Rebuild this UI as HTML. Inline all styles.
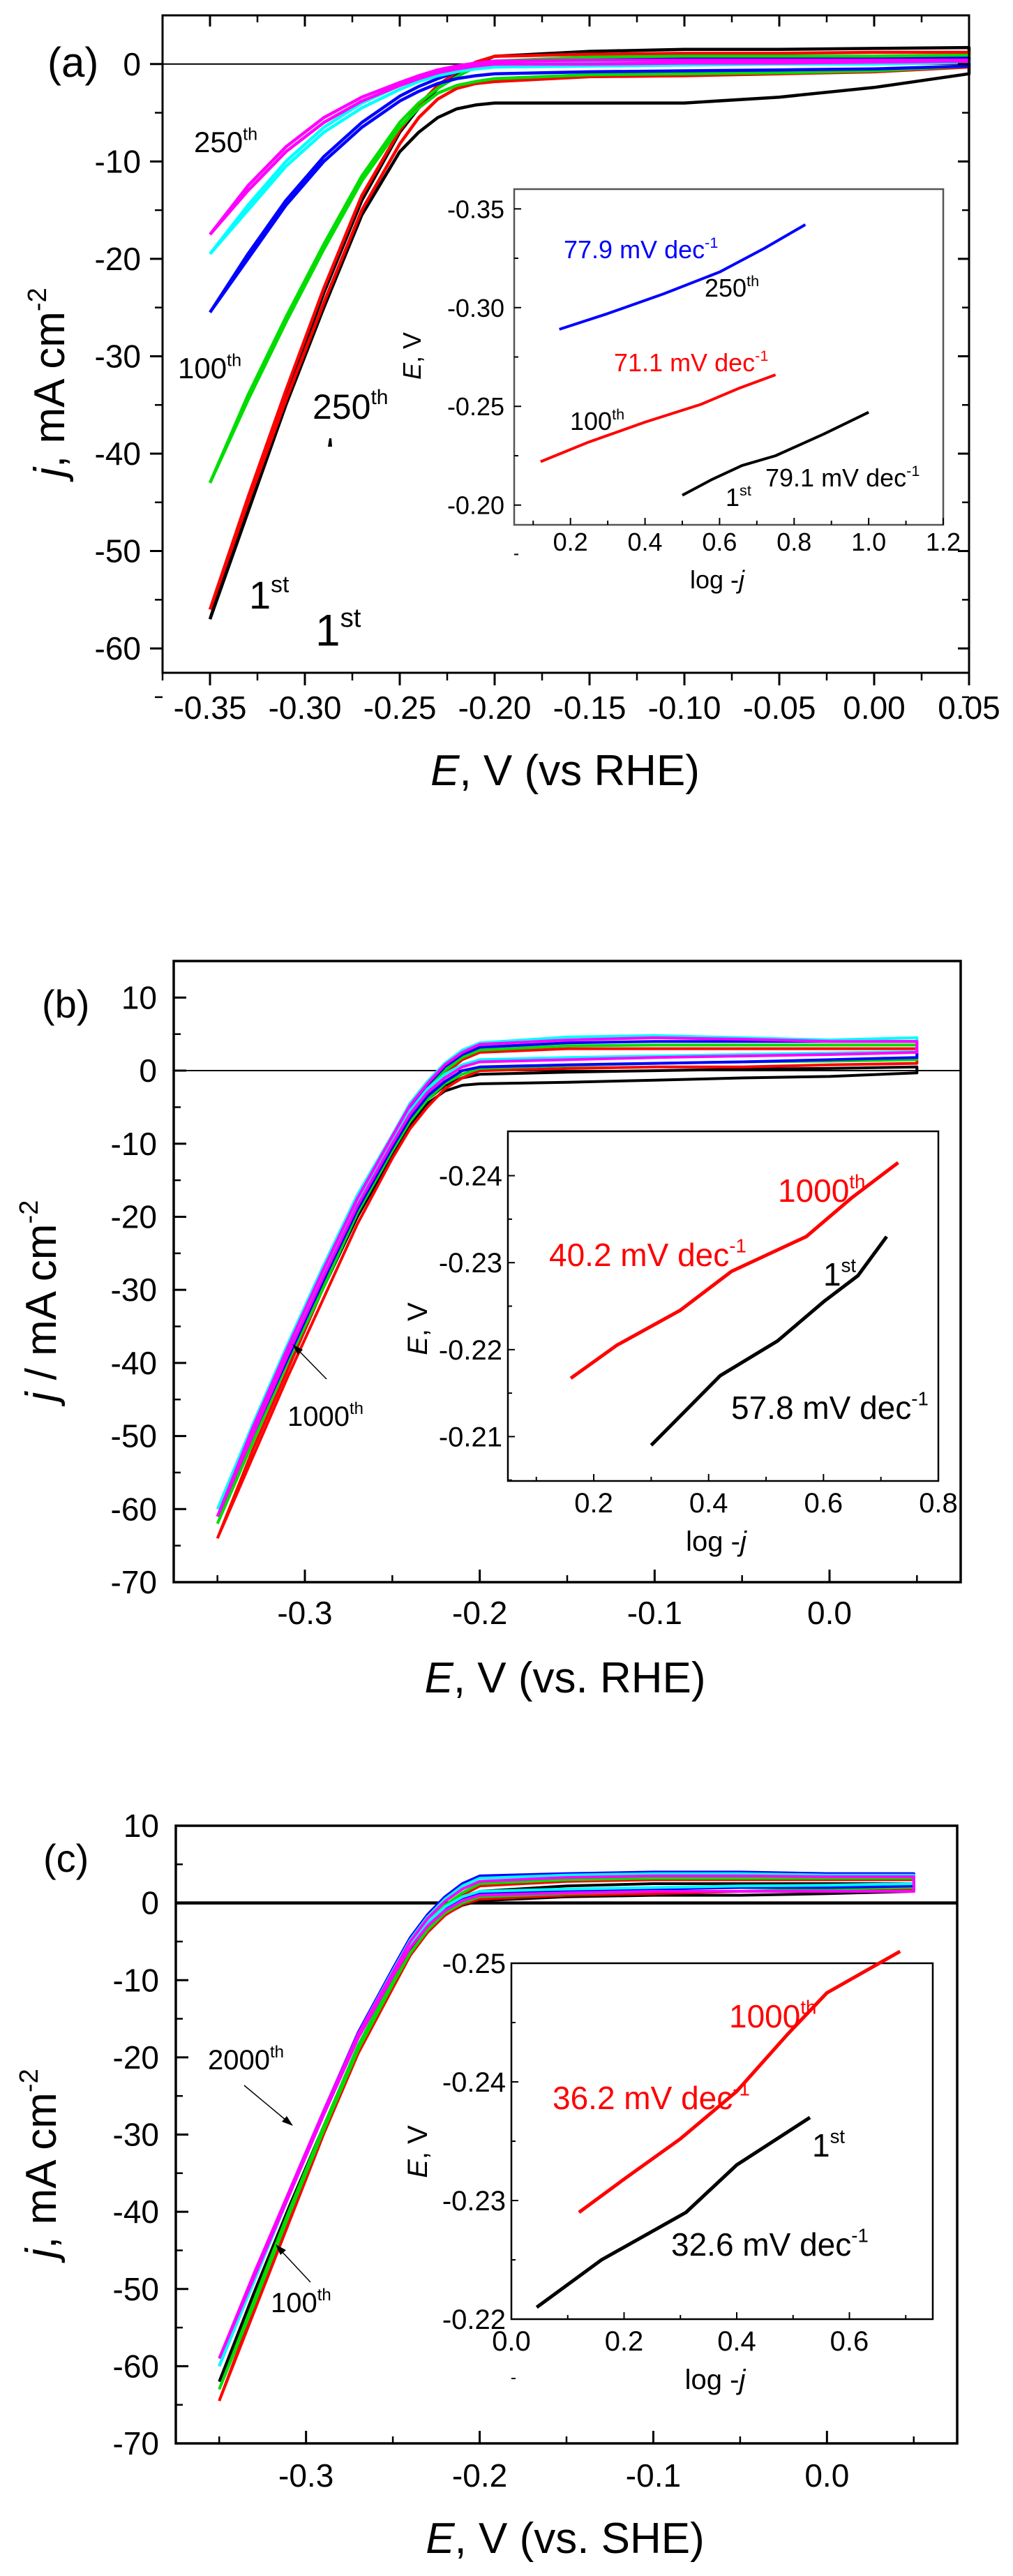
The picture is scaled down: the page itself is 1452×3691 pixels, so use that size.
<!DOCTYPE html>
<html><head><meta charset="utf-8"><style>
html,body{margin:0;padding:0;background:#fff}
svg{display:block;font-family:"Liberation Sans",Arial,sans-serif}
</style></head><body>
<svg id="fig" width="1452" height="3691" viewBox="0 0 1452 3691" xmlns="http://www.w3.org/2000/svg"></svg>
<script>
// ---------- DATA ----------
const potentialsA = [-0.35,-0.33,-0.31,-0.29,-0.27,-0.25,-0.24,-0.23,-0.22,-0.21,-0.20,-0.15,-0.10,-0.05,0.0,0.05];
const seriesNames = ['black','red','green','blue','cyan','magenta'];
const seriesColors = ['#000000','#ff0000','#00dd00','#0000ff','#00ffff','#ff00ff'];
const aLowerBlack   = [-57,-46,-35,-25,-15.5,-9,-7,-5.5,-4.6,-4.2,-4,-4,-4,-3.4,-2.4,-1];
const aLowerRed     = [-56,-45,-34.5,-24.5,-15,-8.2,-5.5,-3.6,-2.5,-2,-1.8,-1.3,-1.2,-1,-0.8,-0.3];
const aLowerGreen   = [-43,-34.5,-26.5,-19,-12,-6.5,-4.5,-3,-2.2,-1.8,-1.5,-1.1,-1,-0.9,-0.7,-0.2];
const aLowerBlue    = [-25.5,-20,-14.5,-10,-6.5,-3.8,-2.8,-2,-1.5,-1.2,-1,-0.8,-0.7,-0.6,-0.5,-0.2];
const aLowerCyan    = [-19.5,-15,-10.5,-7,-4.5,-2.6,-1.8,-1.2,-0.8,-0.5,-0.3,-0.2,-0.1,0,0,0.2];
const aLowerMagenta = [-17.5,-13,-9,-6,-3.8,-2.2,-1.5,-0.9,-0.5,-0.2,0,0,0.1,0.1,0.2,0.3];
const aUpperBlack   = [-57,-45,-34,-23.5,-14,-7,-4.5,-2.5,-1,0,0.8,1.3,1.5,1.5,1.6,1.7];
const aUpperRed     = [-56,-44.5,-33.5,-23,-13.5,-6.8,-4.2,-2.2,-0.8,0.2,0.8,1,1.1,1.1,1.2,1.2];
const aUpperGreen   = [-43,-34,-26,-18.5,-11.5,-6,-4,-2.5,-1.3,-0.3,0.3,0.7,0.8,0.8,0.8,0.9];
const aUpperBlue    = [-25.5,-19.5,-14,-9.5,-6,-3.3,-2.3,-1.5,-0.8,-0.2,0.2,0.4,0.5,0.5,0.5,0.6];
const aUpperCyan    = [-19.5,-14.5,-10,-6.5,-4,-2.2,-1.5,-0.9,-0.4,0,0.2,0.3,0.4,0.4,0.4,0.4];
const aUpperMagenta = [-17.5,-12.5,-8.5,-5.5,-3.4,-1.9,-1.2,-0.6,-0.2,0.1,0.3,0.4,0.4,0.4,0.4,0.4];

const potentialsB = [-0.35,-0.33,-0.31,-0.29,-0.27,-0.25,-0.24,-0.23,-0.22,-0.21,-0.20,-0.15,-0.10,-0.05,0.0,0.05];
const bLowerBlack   = [-61,-50,-40,-30,-20,-11.5,-7.5,-4.5,-2.8,-2,-1.8,-1.6,-1.3,-1,-0.8,-0.3];
const bLowerRed     = [-64,-53,-42,-31.5,-21,-12,-8,-5,-2.5,-1,0,0.3,0.5,0.5,0.8,1];
const bLowerGreen   = [-62,-51,-40,-30,-19.5,-11,-7,-4,-1.8,-0.5,0.3,0.7,1,1.2,1.3,1.5];
const bLowerBlue    = [-61,-50,-39.5,-29,-19,-10.5,-6.5,-3.5,-1.5,0,0.5,0.8,1,1.2,1.5,1.8];
const bLowerCyan    = [-60,-49,-38,-28,-18,-9.5,-5.5,-2.5,-0.5,0.8,1.5,1.8,2,2.2,2.4,2.6];
const bLowerMagenta = [-61,-50,-39,-28.5,-18.5,-10,-6,-3,-1,0.5,1.2,1.5,1.8,2,2.2,2.5];
const bUpperBlack   = [-61,-49.5,-39.5,-29.5,-19.5,-11,-7,-4,-2,-1,-0.5,-0.2,0,0.2,0.3,0.5];
const bUpperRed     = [-64,-52,-41,-30,-19.5,-10.5,-6,-3,-0.5,1.5,2.5,3,3,3,3,3];
const bUpperGreen   = [-62,-50.5,-39.5,-29,-18.5,-9.8,-5.5,-2.5,0,1.8,2.8,3.4,3.5,3.5,3.5,3.5];
const bUpperBlue    = [-61,-49.5,-38.5,-28,-18,-9.5,-5,-2,0.5,2.2,3.2,3.8,4,4,4,4];
const bUpperCyan    = [-60,-48.5,-37.5,-27,-17,-8.8,-4.5,-1.5,1,2.8,3.8,4.6,4.8,4.5,4.2,4.5];
const bUpperMagenta = [-61,-49,-38,-27.5,-17.5,-9,-4.8,-1.8,0.8,2.5,3.6,4.2,4.5,4.3,4,4];

const potentialsC = [-0.35,-0.33,-0.31,-0.29,-0.27,-0.25,-0.24,-0.23,-0.22,-0.21,-0.20,-0.15,-0.10,-0.05,0.0,0.05];
const cLowerBlack   = [-62,-51,-40,-29.5,-19,-10.5,-6.5,-3.5,-1.5,-0.3,0.3,0.8,1,1,1.2,1.5];
const cLowerRed     = [-64.5,-53,-41.5,-30,-19.5,-11,-6.8,-3.8,-1.6,-0.2,0.5,1,1.2,1.5,1.5,1.8];
const cLowerGreen   = [-63,-52,-40.5,-29.5,-19,-10.5,-6.5,-3.5,-1.3,0,0.8,1.2,1.5,1.5,1.8,2];
const cLowerBlue    = [-60,-49,-38,-27.5,-17.5,-9.5,-5.5,-2.8,-0.8,0.5,1.2,1.5,1.8,2,2,2.2];
const cLowerCyan    = [-60,-49,-38,-27.5,-17.5,-9.3,-5.5,-2.5,-0.5,0.8,1.5,1.8,2,2.2,2.3,2.5];
const cLowerMagenta = [-59,-48.5,-38,-27.5,-17.5,-9.5,-5.8,-3,-1,0.3,1,1.3,1.5,1.5,1.5,1.5];
const cUpperBlack   = [-62,-50.5,-39.5,-29,-18.5,-10,-6,-3,-1,0.5,1.5,2.2,2.5,2.5,2.5,2.5];
const cUpperRed     = [-64.5,-52.5,-41,-29.5,-19,-10,-5.8,-2.8,-0.6,1,2.2,2.8,3,3,3,3];
const cUpperGreen   = [-63,-51.5,-40,-29,-18.5,-9.8,-5.5,-2.5,-0.3,1.3,2.5,3,3.2,3.2,3.2,3.2];
const cUpperBlue    = [-60,-48.5,-37.5,-27,-16.8,-8.5,-4.5,-1.5,0.8,2.5,3.5,3.8,4,4,3.8,3.8];
const cUpperCyan    = [-60,-48.5,-37.5,-27,-17,-8.8,-4.8,-1.8,0.5,2.2,3.2,3.6,3.8,3.8,3.6,3.6];
const cUpperMagenta = [-59,-48,-37.5,-27,-17,-9,-5,-2,0.2,1.8,2.8,3.3,3.5,3.5,3.4,3.4];

// Tafel insets
const insetALogJBlue = [0.17,0.30,0.45,0.60,0.72,0.83];
const insetAEBlue    = [-0.289,-0.297,-0.307,-0.318,-0.330,-0.342];
const insetALogJRed  = [0.12,0.25,0.40,0.55,0.65,0.75];
const insetAERed     = [-0.222,-0.232,-0.242,-0.251,-0.259,-0.266];
const insetALogJBlack= [0.50,0.58,0.66,0.75,0.88,1.00];
const insetAEBlack   = [-0.205,-0.213,-0.220,-0.225,-0.236,-0.247];

const insetBLogJRed  = [0.16,0.24,0.35,0.44,0.57,0.65,0.73];
const insetBERed     = [-0.2167,-0.2205,-0.2245,-0.2290,-0.2330,-0.2375,-0.2415];
const insetBLogJBlack= [0.30,0.36,0.42,0.52,0.60,0.66,0.71];
const insetBEBlack   = [-0.2090,-0.2130,-0.2170,-0.2210,-0.2255,-0.2285,-0.2330];

const insetCLogJRed  = [0.12,0.20,0.30,0.40,0.49,0.56,0.69];
const insetCERed     = [-0.2290,-0.2318,-0.2352,-0.2392,-0.2440,-0.2475,-0.2510];
const insetCLogJBlack= [0.045,0.16,0.31,0.40,0.53];
const insetCEBlack   = [-0.2210,-0.2250,-0.2290,-0.2330,-0.2370];

const xTicksA = [-0.35,-0.30,-0.25,-0.20,-0.15,-0.10,-0.05,0.00,0.05];
const yTicksA = [0,-10,-20,-30,-40,-50,-60];
const xTicksBC = [-0.3,-0.2,-0.1,0.0];
const yTicksBC = [10,0,-10,-20,-30,-40,-50,-60,-70];
const insetXTicksA = [0.2,0.4,0.6,0.8,1.0,1.2];
const insetYTicksA = [-0.35,-0.30,-0.25,-0.20];
const insetXTicksB = [0.2,0.4,0.6,0.8];
const insetYTicksB = [-0.24,-0.23,-0.22,-0.21];
const insetXTicksC = [0.0,0.2,0.4,0.6];
const insetYTicksC = [-0.25,-0.24,-0.23,-0.22];

// ---------- HELPERS ----------
const NS='http://www.w3.org/2000/svg';
const svg=document.getElementById('fig');
function mk(tag,attrs,parent){const e=document.createElementNS(NS,tag);for(const k in attrs)e.setAttribute(k,attrs[k]);(parent||svg).appendChild(e);return e;}
function scale(d0,d1,p0,p1){return v=>p0+(v-d0)*(p1-p0)/(d1-d0);}
function poly(xs,ys,X,Y){return xs.map((v,i)=>X(v).toFixed(1)+','+Y(ys[i]).toFixed(1)).join(' ');}
function txt(x,y,s,size,opts,parent){const t=mk('text',Object.assign({x:x,y:y,'font-size':size},opts||{}),parent);t.textContent=s;return t;}
function supText(x,y,base,sup,size,color,name){
  const t=mk('text',{x:x,y:y,'font-size':size,fill:color||'#000'});
  
  
  const a=mk('tspan',{},t);a.textContent=base;
  const b=mk('tspan',{dy:-size*0.42,'font-size':size*0.6},t);b.textContent=sup;
  return t;
}
function fmt(v,d){let s=Math.abs(v).toFixed(d);return (v<0?'-':'')+s;}

// ---------- PANEL A ----------
(function(){
  const X=scale(-0.375,0.05,233,1389), Y=scale(5,-62.5,22,964);
  const g=mk('g',{});
  
  
  mk('line',{x1:233,y1:Y(0),x2:1389,y2:Y(0),stroke:'#000','stroke-width':2},g);
  const lows=[aLowerBlack,aLowerRed,aLowerGreen,aLowerBlue,aLowerCyan,aLowerMagenta];
  const ups=[aUpperBlack,aUpperRed,aUpperGreen,aUpperBlue,aUpperCyan,aUpperMagenta];
  for(let i=0;i<6;i++){
    const p=mk('polyline',{points:poly(potentialsA,lows[i],X,Y)+' '+poly(potentialsA.slice().reverse(),ups[i].slice().reverse(),X,Y),fill:'none',stroke:seriesColors[i],'stroke-width':4.5,'stroke-linejoin':'round'},g);
    
    
  }
  mk('rect',{x:233,y:22,width:1156,height:942,fill:'none',stroke:'#000','stroke-width':3},g);
  xTicksA.forEach((v,i)=>{mk('line',{x1:X(v),y1:964,x2:X(v),y2:982,stroke:'#000','stroke-width':3},g);mk('line',{x1:X(v),y1:22,x2:X(v),y2:38,stroke:'#000','stroke-width':3},g);
    const t=txt(X(v),1030,v.toFixed(2),46,{'text-anchor':'middle'},g);
    if(i<xTicksA.length-1){mk('line',{x1:X(v+0.025),y1:964,x2:X(v+0.025),y2:975,stroke:'#000','stroke-width':2.5},g);mk('line',{x1:X(v+0.025),y1:22,x2:X(v+0.025),y2:32,stroke:'#000','stroke-width':2.5},g);}
  });
  mk('line',{x1:X(-0.375),y1:964,x2:X(-0.375),y2:975,stroke:'#000','stroke-width':2.5},g);
  yTicksA.forEach(v=>{mk('line',{x1:215,y1:Y(v),x2:233,y2:Y(v),stroke:'#000','stroke-width':3},g);mk('line',{x1:1373,y1:Y(v),x2:1389,y2:Y(v),stroke:'#000','stroke-width':3},g);
    mk('line',{x1:222,y1:Y(v-5),x2:233,y2:Y(v-5),stroke:'#000','stroke-width':2.5},g);mk('line',{x1:1379,y1:Y(v-5),x2:1389,y2:Y(v-5),stroke:'#000','stroke-width':2.5},g);
    const t=txt(202,Y(v)+16,String(v),46,{'text-anchor':'end'},g);
  });
  const xt=mk('text',{x:810,y:1125,'font-size':62,'text-anchor':'middle'},g);
  
  xt.innerHTML='<tspan font-style="italic">E</tspan>, V (vs RHE)';
  const yt=mk('text',{x:0,y:0,'font-size':62,'text-anchor':'middle',transform:'translate(92,548) rotate(-90)'},g);
  
  yt.innerHTML='<tspan font-style="italic">j</tspan>, mA cm<tspan dy="-26" font-size="38">-2</tspan>';
  const pl=txt(68,110,'(a)',60,{},g);
  supText(278,218,'250','th',42,'#000','label-250th-left');
  supText(255,542,'100','th',42,'#000','label-100th');
  supText(448,600,'250','th',50,'#000','label-250th-mid');
  mk('path',{d:'M470,640 L476,640 L475,628 L472,628 Z',fill:'#000'},g);
  supText(357,872,'1','st',56,'#000','label-1st-a');
  supText(452,925,'1','st',64,'#000','label-1st-b');
  // inset
  const IX=scale(0.049,1.2,737,1352), IY=scale(-0.36,-0.19,271,752);
  const ig=mk('g',{},g);
  mk('rect',{x:737,y:271,width:615,height:481,fill:'#fff',stroke:'#555','stroke-width':2.5},ig);
  insetXTicksA.forEach(v=>{mk('line',{x1:IX(v),y1:752,x2:IX(v),y2:742,stroke:'#000','stroke-width':2},ig);mk('line',{x1:IX(v-0.1),y1:752,x2:IX(v-0.1),y2:746,stroke:'#000','stroke-width':2},ig);
    txt(IX(v),789,v.toFixed(1),36,{'text-anchor':'middle'},ig);});
  insetYTicksA.forEach(v=>{mk('line',{x1:737,y1:IY(v),x2:747,y2:IY(v),stroke:'#000','stroke-width':2},ig);mk('line',{x1:737,y1:IY(v+0.025),x2:743,y2:IY(v+0.025),stroke:'#000','stroke-width':2},ig);
    txt(723,IY(v)+13,v.toFixed(2),36,{'text-anchor':'end'},ig);});
  const il=mk('text',{x:1028,y:843,'font-size':36,'text-anchor':'middle'},ig);il.innerHTML='log -<tspan font-style="italic">j</tspan>';
  const iy=mk('text',{x:0,y:0,'font-size':36,'text-anchor':'middle',transform:'translate(603,510) rotate(-90)'},ig);iy.innerHTML='<tspan font-style="italic">E</tspan>, V';
  [[insetALogJBlue,insetAEBlue,'#0000ff','tafel-a-250th'],[insetALogJRed,insetAERed,'#ff0000','tafel-a-100th'],[insetALogJBlack,insetAEBlack,'#000','tafel-a-1st']].forEach(s=>{
    const p=mk('polyline',{points:poly(s[0],s[1],IX,IY),fill:'none',stroke:s[2],'stroke-width':4,'stroke-linejoin':'round'},ig);
    });
  supText(808,370,'77.9 mV dec','-1',36,'#0000ff','slope-label-77-9');
  supText(1010,425,'250','th',36,'#000','inset-label-250th');
  supText(880,532,'71.1 mV dec','-1',36,'#ff0000','slope-label-71-1');
  supText(817,616,'100','th',36,'#000','inset-label-100th');
  supText(1040,725,'1','st',36,'#000','inset-label-1st');
  supText(1097,697,'79.1 mV dec','-1',36,'#000','slope-label-79-1');
})();

// ---------- PANELS B & C ----------
function bigPanel(cfg){
  const X=scale(-0.375,0.075,cfg.left,cfg.right), Y=scale(15,-70,cfg.top,cfg.bottom);
  if(cfg.ymax===10) Y.__=0;
  const Yf=cfg.ymax===10?scale(10,-70,cfg.top,cfg.bottom):Y;
  const g=mk('g',{});
  
  
  mk('line',{x1:cfg.left,y1:Yf(0),x2:cfg.right,y2:Yf(0),stroke:'#000','stroke-width':cfg.zeroW},g);
  for(let i=0;i<6;i++){
    const p=mk('polyline',{points:poly(cfg.E,cfg.lows[i],X,Yf)+' '+poly(cfg.E.slice().reverse(),cfg.ups[i].slice().reverse(),X,Yf),fill:'none',stroke:seriesColors[i],'stroke-width':4,'stroke-linejoin':'round'},g);
    
    
  }
  mk('rect',{x:cfg.left,y:cfg.top,width:cfg.right-cfg.left,height:cfg.bottom-cfg.top,fill:'none',stroke:'#000','stroke-width':3.5},g);
  xTicksBC.forEach(v=>{mk('line',{x1:X(v),y1:cfg.bottom,x2:X(v),y2:cfg.bottom-18,stroke:'#000','stroke-width':3},g);
    const t=txt(X(v),cfg.xlabY,v.toFixed(1),46,{'text-anchor':'middle'},g);});
  [-0.35,-0.25,-0.15,-0.05,0.05].forEach(v=>mk('line',{x1:X(v),y1:cfg.bottom,x2:X(v),y2:cfg.bottom-10,stroke:'#000','stroke-width':2.5},g));
  yTicksBC.forEach(v=>{mk('line',{x1:cfg.left,y1:Yf(v),x2:cfg.left+18,y2:Yf(v),stroke:'#000','stroke-width':3},g);
    if(v>-70)mk('line',{x1:cfg.left,y1:Yf(v-5),x2:cfg.left+10,y2:Yf(v-5),stroke:'#000','stroke-width':2.5},g);
    const t=txt(cfg.left-24,Yf(v)+16,String(v),46,{'text-anchor':'end'},g);});
  const xt=mk('text',{x:810,y:cfg.titleY,'font-size':62,'text-anchor':'middle'},g);
  
  xt.innerHTML='<tspan font-style="italic">E</tspan>, V ('+cfg.ref+')';
  const yt=mk('text',{x:0,y:0,'font-size':62,'text-anchor':'middle',transform:'translate(80,'+cfg.ytY+') rotate(-90)'},g);
  
  yt.innerHTML='<tspan font-style="italic">j</tspan>'+cfg.ysep+'mA cm<tspan dy="-26" font-size="38">-2</tspan>';
  const pl=txt(cfg.plX,cfg.plY,'('+cfg.id+')',56,{},g);
  // inset
  const I=cfg.inset;
  const IX=scale(I.x0,I.x1,I.l,I.r), IY=scale(I.y0,I.y1,I.t,I.b);
  const ig=mk('g',{},g);
  mk('rect',{x:I.l,y:I.t,width:I.r-I.l,height:I.b-I.t,fill:'#fff',stroke:'#000','stroke-width':2.5},ig);
  I.xt.forEach(v=>{mk('line',{x1:IX(v),y1:I.b,x2:IX(v),y2:I.b-10,stroke:'#000','stroke-width':2},ig);if(v+0.1<I.x1)mk('line',{x1:IX(v+0.1),y1:I.b,x2:IX(v+0.1),y2:I.b-6,stroke:'#000','stroke-width':2},ig);
    txt(IX(v),I.b+45,v.toFixed(1),40,{'text-anchor':'middle'},ig);});
  if(I.xt[0]>0.15)mk('line',{x1:IX(I.xt[0]-0.1),y1:I.b,x2:IX(I.xt[0]-0.1),y2:I.b-6,stroke:'#000','stroke-width':2},ig);
  I.yt.forEach(v=>{mk('line',{x1:I.l,y1:IY(v),x2:I.l+10,y2:IY(v),stroke:'#000','stroke-width':2},ig);mk('line',{x1:I.l,y1:IY(v+0.005),x2:I.l+6,y2:IY(v+0.005),stroke:'#000','stroke-width':2},ig);
    txt(I.l-8,IY(v)+14,v.toFixed(2),40,{'text-anchor':'end'},ig);});
  const il=mk('text',{x:(I.l+I.r)/2-10,y:I.b+100,'font-size':40,'text-anchor':'middle'},ig);il.innerHTML='log -<tspan font-style="italic">j</tspan>';
  const iy=mk('text',{x:0,y:0,'font-size':40,'text-anchor':'middle',transform:'translate('+I.yl[0]+','+I.yl[1]+') rotate(-90)'},ig);iy.innerHTML='<tspan font-style="italic">E</tspan>, V';
  I.series.forEach(s=>{const p=mk('polyline',{points:poly(s[0],s[1],IX,IY),fill:'none',stroke:s[2],'stroke-width':5,'stroke-linejoin':'round'},ig);
    });
  return g;
}
bigPanel({id:'b',name:'panel-b',left:249,right:1377,top:1377,bottom:2267,ymax:15,zeroW:2,E:potentialsB,
  lows:[bLowerBlack,bLowerRed,bLowerGreen,bLowerBlue,bLowerCyan,bLowerMagenta],
  ups:[bUpperBlack,bUpperRed,bUpperGreen,bUpperBlue,bUpperCyan,bUpperMagenta],
  xlabY:2327,titleY:2425,ref:'vs. RHE',ytY:1864,ysep:' / ',plX:60,plY:1458,
  inset:{l:728,r:1345,t:1621,b:2122,x0:0.0505,x1:0.8,y0:-0.2451,y1:-0.2049,xt:insetXTicksB,yt:insetYTicksB,yl:[612,1904],
    series:[[insetBLogJRed,insetBERed,'#ff0000','tafel-b-1000th'],[insetBLogJBlack,insetBEBlack,'#000','tafel-b-1st']]}});
bigPanel({id:'c',name:'panel-c',left:252,right:1372,top:2616,bottom:3501,ymax:10,zeroW:4.5,E:potentialsC,
  lows:[cLowerBlack,cLowerRed,cLowerGreen,cLowerBlue,cLowerCyan,cLowerMagenta],
  ups:[cUpperBlack,cUpperRed,cUpperGreen,cUpperBlue,cUpperCyan,cUpperMagenta],
  xlabY:3563,titleY:3658,ref:'vs. SHE',ytY:3100,ysep:', ',plX:62,plY:2682,
  inset:{l:733,r:1337,t:2813,b:3323,x0:0.0,x1:0.748,y0:-0.25,y1:-0.22,xt:insetXTicksC,yt:insetYTicksC,yl:[612,3083],
    series:[[insetCLogJRed,insetCERed,'#ff0000','tafel-c-1000th'],[insetCLogJBlack,insetCEBlack,'#000','tafel-c-1st']]}});

// annotations B
supText(412,2043,'1000','th',40,'#000','label-1000th-main-b');
mk('line',{x1:468,y1:1976,x2:428,y2:1935,stroke:'#000','stroke-width':1.5});
mk('path',{d:'M419,1926 L434,1934 L427,1941 Z',fill:'#000'});
supText(1115,1722,'1000','th',46,'#ff0000','inset-label-1000th-b');
supText(787,1814,'40.2 mV dec','-1',46,'#ff0000','slope-label-40-2');
supText(1180,1842,'1','st',46,'#000','inset-label-1st-b');
supText(1048,2033,'57.8 mV dec','-1',46,'#000','slope-label-57-8');
// annotations C
supText(298,2965,'2000','th',40,'#000','label-2000th');
mk('line',{x1:350,y1:2988,x2:410,y2:3038,stroke:'#000','stroke-width':1.5});
mk('path',{d:'M420,3046 L404,3040 L411,3032 Z',fill:'#000'});
supText(388,3313,'100','th',40,'#000','label-100th-c');
mk('line',{x1:445,y1:3270,x2:403,y2:3225,stroke:'#000','stroke-width':1.5});
mk('path',{d:'M395,3216 L410,3224 L402,3231 Z',fill:'#000'});
supText(1045,2905,'1000','th',46,'#ff0000','inset-label-1000th-c');
supText(792,3022,'36.2 mV dec','-1',46,'#ff0000','slope-label-36-2');
supText(1164,3090,'1','st',46,'#000','inset-label-1st-c');
supText(962,3232,'32.6 mV dec','-1',46,'#000','slope-label-32-6');
</script>
</body></html>
